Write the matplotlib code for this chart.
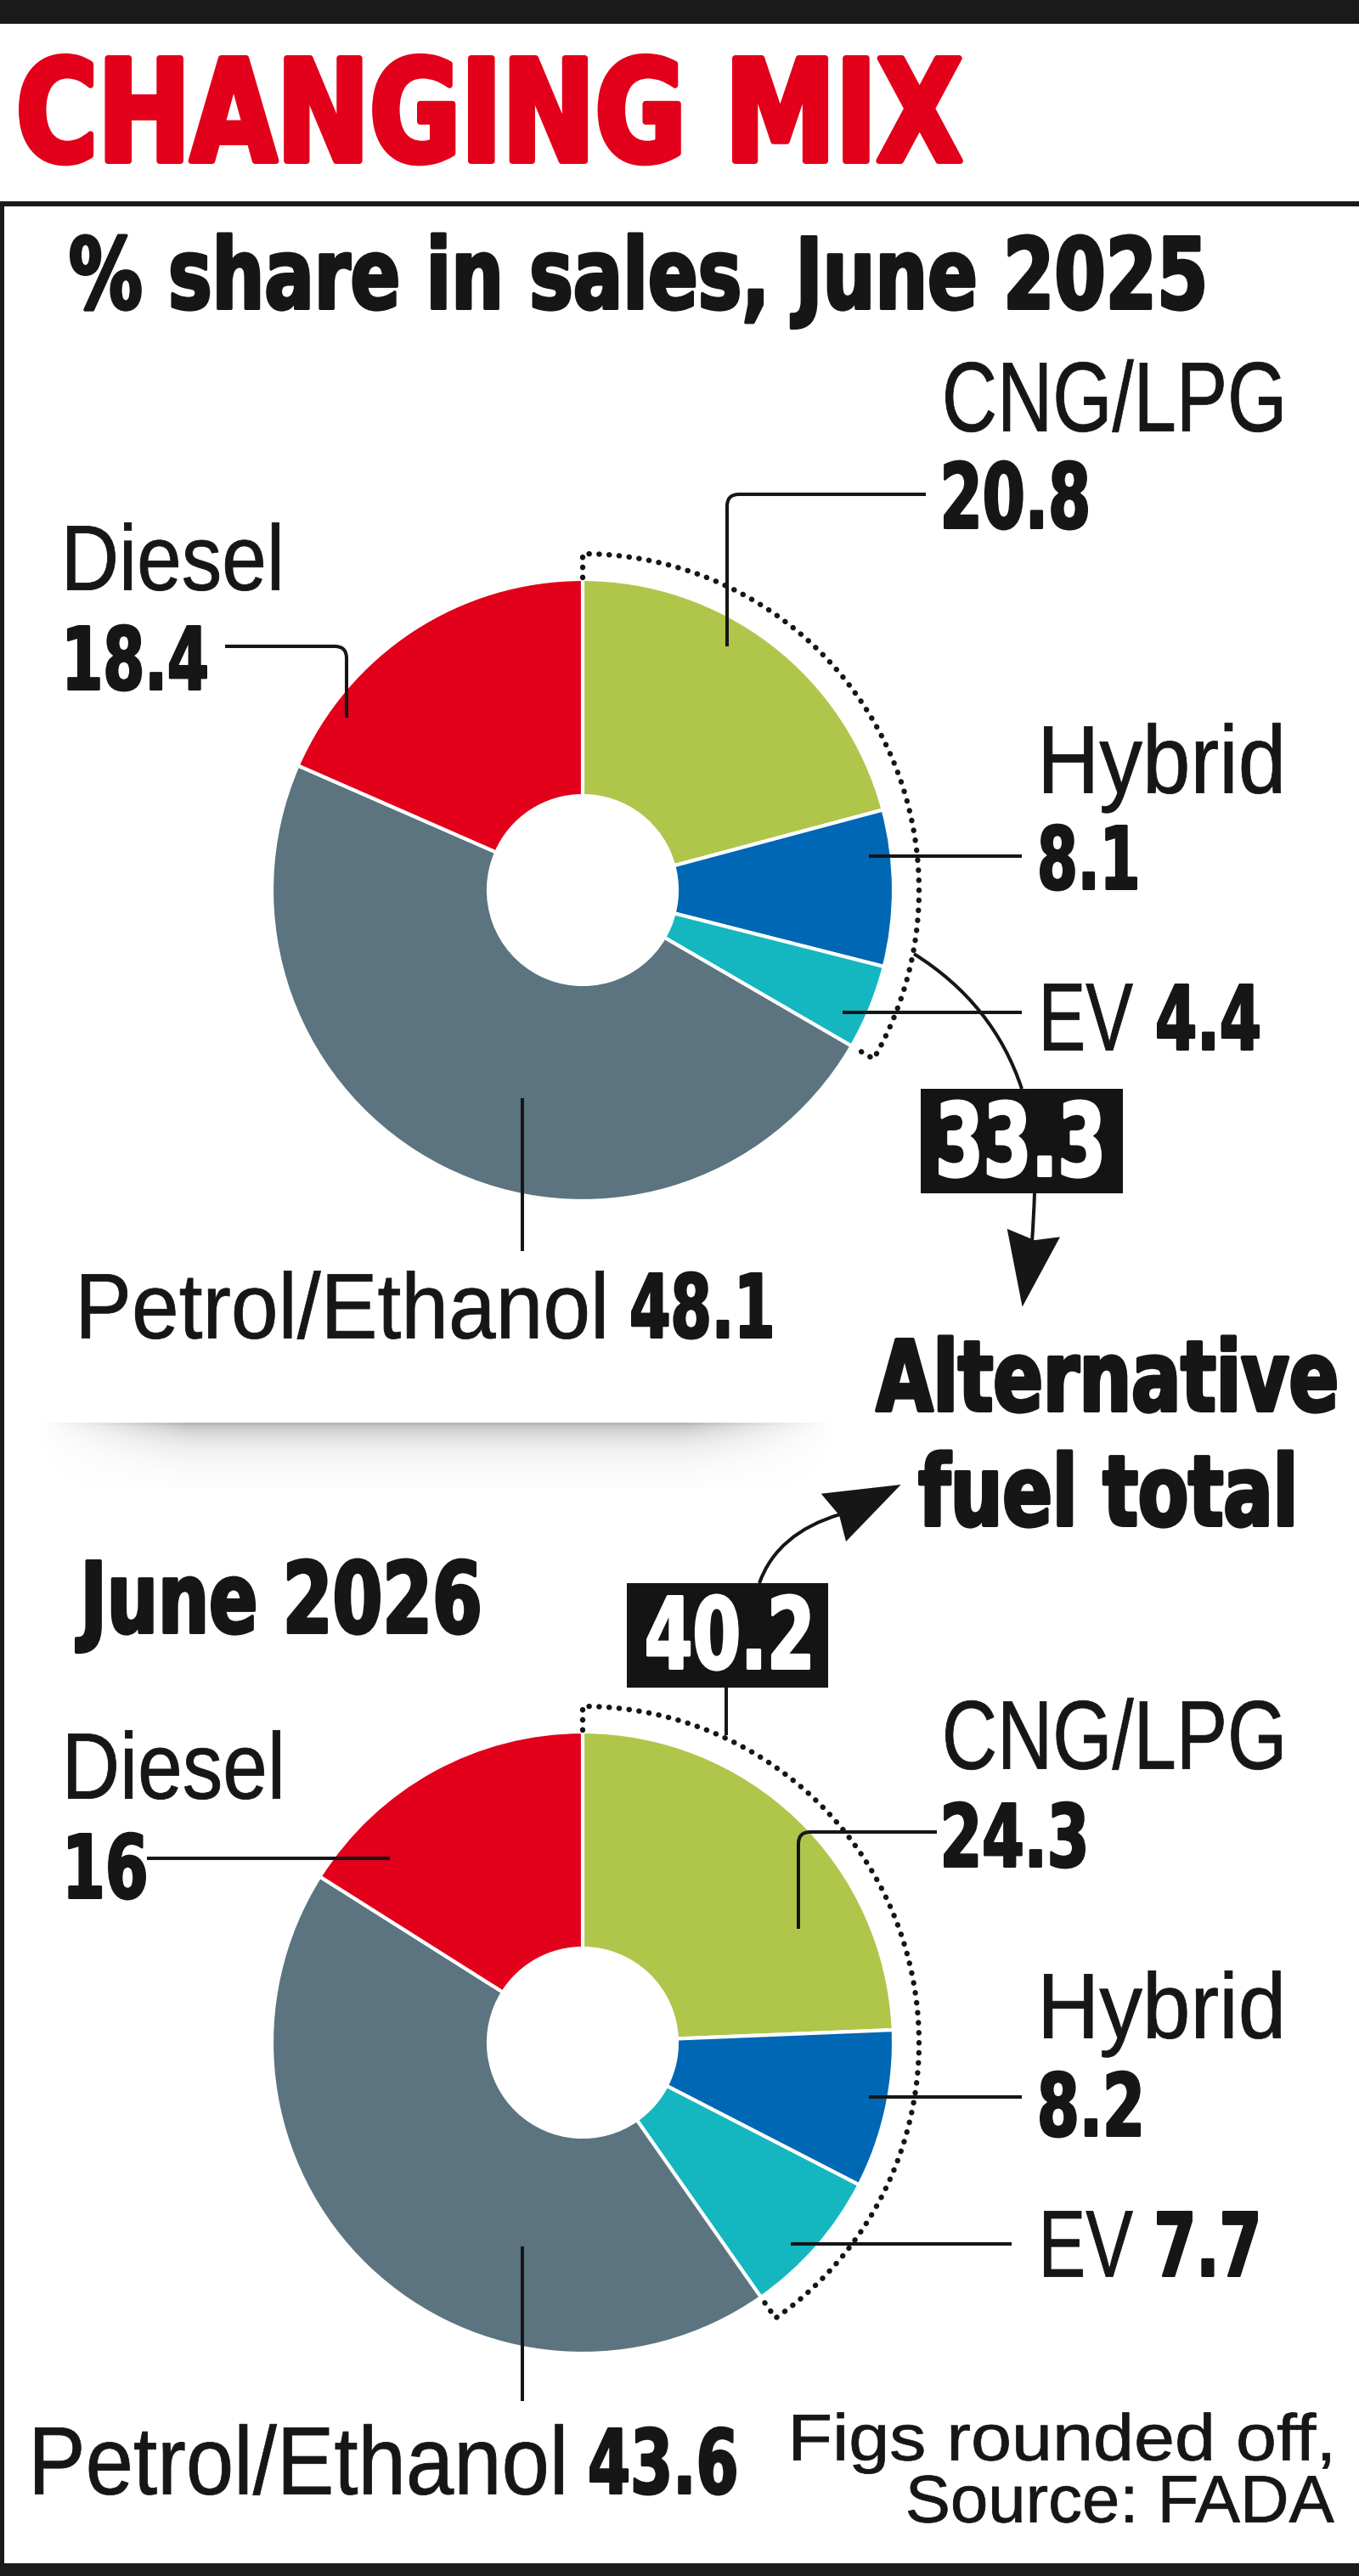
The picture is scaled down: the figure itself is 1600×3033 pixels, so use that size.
import numpy as np
import matplotlib
matplotlib.use("Agg")
import matplotlib.pyplot as plt
from matplotlib.font_manager import FontProperties
from matplotlib.textpath import TextPath
from matplotlib.transforms import Affine2D
from matplotlib.path import Path
from matplotlib.patches import PathPatch, Rectangle, Polygon
import matplotlib.patheffects as pe

# ---------------- data ----------------
categories = ["CNG/LPG", "Hybrid", "EV", "Petrol/Ethanol", "Diesel"]
share_2025 = [20.8, 8.1, 4.4, 48.1, 18.4]
share_2026 = [24.3, 8.2, 7.7, 43.6, 16.0]
alternative = ["CNG/LPG", "Hybrid", "EV"]
slice_colors = ["#B0C64B", "#0067B4", "#14B7C0", "#5B747F", "#E2001A"]

title = "CHANGING MIX"
subtitle_2025 = "% share in sales, June 2025"
subtitle_2026 = "June 2026"
alt_caption = ["Alternative", "fuel total"]
note_lines = ["Figs rounded off,", "Source: FADA"]

# ---------------- canvas ----------------
W, H, DPI = 1600, 3033, 100
INK = "#161616"
RED = "#E2001A"
fig = plt.figure(figsize=(W / DPI, H / DPI), dpi=DPI)
fig.patch.set_facecolor("white")

ov = fig.add_axes([0, 0, 1, 1])
ov.set_xlim(0, W)
ov.set_ylim(H, 0)
ov.axis("off")
ov.patch.set_alpha(0)
ov.set_zorder(2)

BOLD = ["DejaVu Sans"]
REG = ["Liberation Sans", "DejaVu Sans"]


class Stretch(pe.AbstractPathEffect):
    """Vertical stretch of glyph outlines (condensed look) plus optional outline weight."""
    def __init__(self, sy, stroke_px=0.0):
        super().__init__((0, 0))
        self.sy = sy
        self.stroke_px = stroke_px

    def draw_path(self, renderer, gc, tpath, affine, rgbFace=None):
        tr = Affine2D().scale(1.0, self.sy) + affine
        if self.stroke_px > 0:
            gc0 = renderer.new_gc()
            gc0.copy_properties(gc)
            gc0.set_linewidth(self.stroke_px * 72.0 / DPI)
            gc0.set_foreground(rgbFace)
            gc0.set_joinstyle("round")
            renderer.draw_path(gc0, tpath, tr, rgbFace)
            gc0.restore()
        else:
            renderer.draw_path(gc, tpath, tr, rgbFace)


def label(x, base, s, cap, width, bold=False, color=INK, stroke=None):
    fam = BOLD if bold else REG
    wt = "bold" if bold else "normal"
    if stroke is None:
        stroke = 2.6 if bold else 0.8
    probe = FontProperties(family=fam, weight=wt)
    capr = TextPath((0, 0), "H", size=100, prop=probe).get_extents().height / 100
    e1 = TextPath((0, 0), s, size=100, prop=probe).get_extents()
    w_eff = width - stroke
    c_eff = cap - stroke
    size_px = w_eff / e1.width * 100
    x0 = x + stroke / 2 - e1.x0 / 100 * size_px
    sy = c_eff / (capr * size_px)
    t = fig.text(x0 / W, 1 - (base - stroke / 2) / H, s,
                 fontproperties=FontProperties(family=fam, weight=wt,
                                               size=size_px * 72 / DPI),
                 color=color, ha="left", va="baseline", zorder=4)
    t.set_path_effects([Stretch(sy, stroke)])
    return t


LW = 2.9


def leader(points, r=14):
    verts = [points[0]]
    codes = [Path.MOVETO]
    for i in range(1, len(points) - 1):
        p0, p1, p2 = (np.array(p, float) for p in points[i - 1:i + 2])
        d1 = (p1 - p0) / np.linalg.norm(p1 - p0)
        d2 = (p2 - p1) / np.linalg.norm(p2 - p1)
        a, b = p1 - d1 * r, p1 + d2 * r
        verts += [tuple(a), tuple(p1), tuple(b)]
        codes += [Path.LINETO, Path.CURVE3, Path.CURVE3]
    verts.append(points[-1])
    codes.append(Path.LINETO)
    ov.add_patch(PathPatch(Path(verts, codes), fill=False, lw=LW,
                           edgecolor=INK, capstyle="butt", joinstyle="round"))


def curve(p0, c, p1):
    ov.add_patch(PathPatch(Path([p0, c, p1], [Path.MOVETO, Path.CURVE3, Path.CURVE3]),
                           fill=False, lw=LW, edgecolor=INK))


# ---------------- frame decoration ----------------
ov.add_patch(Rectangle((0, 0), W, 28, color="#1a1a1a", lw=0))
ov.add_patch(Rectangle((0, 237), W, 6, color="#1a1a1a", lw=0))
ov.add_patch(Rectangle((0, 237), 5, 3018 - 237, color="#1a1a1a", lw=0))
ov.add_patch(Rectangle((0, 3018), W, 15, color="#1a1a1a", lw=0))

# soft shadow separator
sh = fig.add_axes([40 / W, 1 - 1752 / H, (985 - 40) / W, (1752 - 1670) / H])
sh.axis("off")
sh.set_zorder(0.5)
xs = np.arange(40, 985)
ys = np.arange(1670, 1752)
hx = np.clip(np.minimum((xs - 40) / 180.0, (985 - xs) / 180.0), 0, 1) ** 1.2
vy = np.where(ys < 1675, 0.0, np.exp(-(ys - 1675) / 22.0))
vy[(ys >= 1675) & (ys <= 1677)] = 1.1
alpha = 0.4 * vy[:, None] * hx[None, :]
img = np.zeros((len(ys), len(xs), 4))
img[..., :3] = 0.35
img[..., 3] = np.clip(alpha, 0, 1)
sh.imshow(img, aspect="auto", interpolation="bilinear")

# ---------------- donuts ----------------
R_OUT, R_IN, R_ARC = 366, 111, 396


def donut(cx, cy, values):
    R = 430
    ax = fig.add_axes([(cx - R) / W, 1 - (cy + R) / H, 2 * R / W, 2 * R / H])
    ax.set_zorder(1)
    ax.pie(values, colors=slice_colors, radius=R_OUT, startangle=90,
           counterclock=False,
           wedgeprops=dict(width=R_OUT - R_IN, edgecolor="white", linewidth=3.0))
    ax.set_xlim(-R, R)
    ax.set_ylim(-R, R)
    ax.set_aspect("auto")
    ax.axis("off")
    alt = sum(v for c, v in zip(categories, values) if c in alternative)
    t0 = np.deg2rad(90)
    t1 = np.deg2rad(90 - 360 * alt / sum(values))
    th = np.linspace(t0, t1, 300)
    px = np.concatenate([[368 * np.cos(t0)], R_ARC * np.cos(th), [368 * np.cos(t1)]])
    py = np.concatenate([[368 * np.sin(t0)], R_ARC * np.sin(th), [368 * np.sin(t1)]])
    ax.plot(px, py, color=INK, lw=4.6, linestyle=(0, (0.05, 1.8)),
            dash_capstyle="round")
    return alt


alt25 = donut(686, 1048, share_2025)
alt26 = donut(686, 2405, share_2026)


def fmt(v):
    return f"{v:g}"


# ---------------- texts ----------------
label(22, 193, title, 128, 1112, bold=True, color=RED, stroke=7)
label(82, 365, subtitle_2025, 88, 1336, bold=True, stroke=3.5)
label(88, 1924, subtitle_2026, 88, 477, bold=True, stroke=3.5)

# layout: name (x, baseline, cap, width), value (x, baseline, cap, width)
layout_2025 = {
    "CNG/LPG": ((1113, 508, 81, 396), (1111, 623, 80, 170)),
    "Hybrid": ((1229, 934, 79, 279), (1224, 1048, 77, 115)),
    "EV": ((1229, 1237, 79, 105), (1362, 1237, 79, 121)),
    "Petrol/Ethanol": ((96, 1576, 76, 615), (743, 1576, 78, 166)),
    "Diesel": ((79, 695, 76, 250), (79, 813, 77, 165)),
}
layout_2026 = {
    "CNG/LPG": ((1113, 2083, 80, 396), (1111, 2199, 77, 167)),
    "Hybrid": ((1229, 2400, 76, 279), (1224, 2516, 77, 119)),
    "EV": ((1229, 2681, 78, 105), (1362, 2681, 78, 119)),
    "Petrol/Ethanol": ((41, 2937, 79, 622), (694, 2937, 79, 173)),
    "Diesel": ((80, 2118, 77, 250), (80, 2236, 78, 92)),
}
for values, lay in ((share_2025, layout_2025), (share_2026, layout_2026)):
    for c, v in zip(categories, values):
        (nx, nb, nc, nw), (vx, vb, vc, vw) = lay[c]
        label(nx, nb, c, nc, nw)
        label(vx, vb, fmt(v), vc, vw, bold=True)

# leader lines
leader([(265, 761), (408, 761), (408, 845)])
leader([(856, 761), (856, 582), (1090, 582)])
leader([(1023, 1008), (1203, 1008)])
leader([(992, 1192), (1203, 1192)])
leader([(615, 1293), (615, 1473)])

leader([(173, 2188), (459, 2188)])
leader([(940, 2271), (940, 2157), (1103, 2157)])
leader([(1023, 2469), (1203, 2469)])
leader([(931, 2642), (1191, 2642)])
leader([(615, 2645), (615, 2827)])

# alternative totals
ov.add_patch(Rectangle((1084, 1282), 238, 123, color="#141414", lw=0))
label(1105, 1386, fmt(round(alt25, 1)), 90, 192, bold=True, color="white", stroke=3)
ov.add_patch(Rectangle((738, 1864), 237, 123, color="#141414", lw=0))
label(761, 1966, fmt(round(alt26, 1)), 88, 193, bold=True, color="white", stroke=3)

curve((1076, 1123), (1170, 1182), (1203, 1282))
curve((1218, 1405), (1217, 1435), (1215, 1462))
ov.add_patch(Polygon([(1203.6, 1538.7), (1185.7, 1446.8), (1217.9, 1460.2), (1248, 1456.4)],
                     closed=True, color=INK, lw=0))

leader([(854.5, 2043), (854.5, 1987)])
curve((894, 1864), (915, 1805), (989, 1783))
ov.add_patch(Polygon([(1060.7, 1748), (966.7, 1758.7), (988, 1784), (996, 1815)],
                     closed=True, color=INK, lw=0))

label(1030, 1663, alt_caption[0], 88, 544, bold=True, stroke=4)
label(1081, 1798, alt_caption[1], 88, 442, bold=True, stroke=4)

label(934, 2897, note_lines[0], 54, 632)
label(1069, 2970, note_lines[1], 55, 502)

fig.savefig("out.png", dpi=DPI, facecolor="white")
